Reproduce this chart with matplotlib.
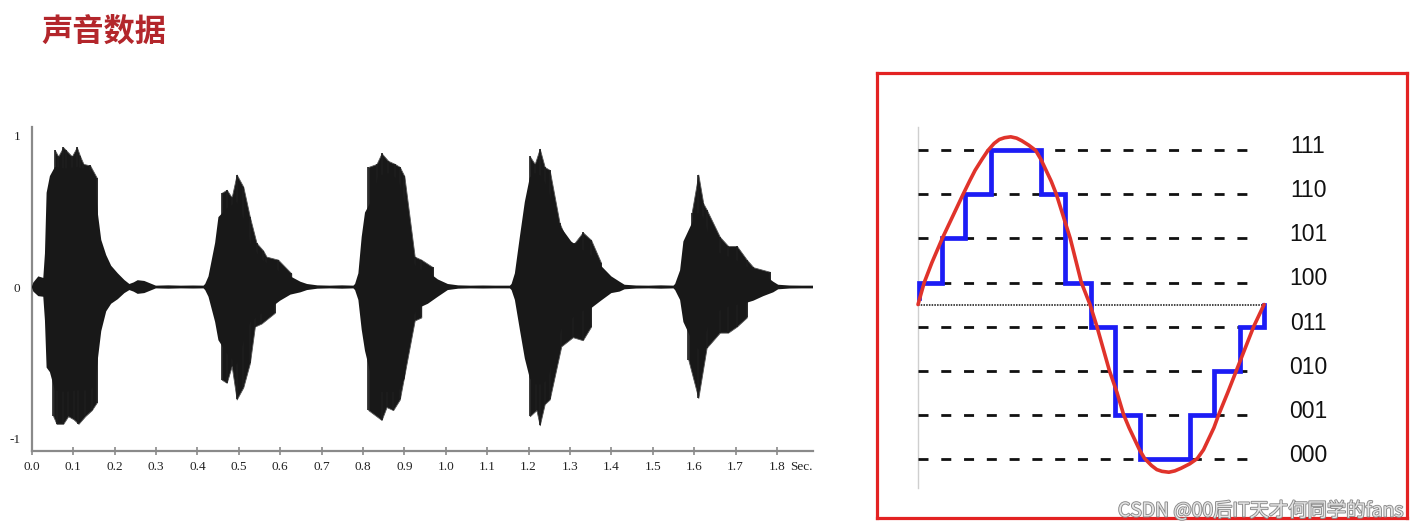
import matplotlib
matplotlib.use('Agg')
import matplotlib.pyplot as plt
import matplotlib.patheffects as pe
import numpy as np

plt.rcParams['font.family'] = ['Noto Sans CJK SC', 'DejaVu Sans']

title_text = '声音数据'
watermark_text = 'CSDN @00后IT天才何同学的fans'

# ------------------------------------------------------------
# left panel: waveform
# body = solid envelope, spikes = thin peaks sticking out of it
# (time in seconds, amplitude)
# ------------------------------------------------------------
body_t = [0.0, 0.004, 0.016, 0.028, 0.032, 0.036, 0.044, 0.056, 0.08, 0.11, 0.14, 0.152,
          0.16, 0.168, 0.18, 0.192, 0.208, 0.224, 0.236, 0.246, 0.256, 0.272, 0.29, 0.30,
          0.33, 0.36, 0.39, 0.415,
          0.419, 0.427, 0.443, 0.451, 0.472, 0.496, 0.516, 0.528, 0.552, 0.576, 0.60, 0.625,
          0.649, 0.665, 0.69, 0.72, 0.75, 0.777,
          0.781, 0.789, 0.797, 0.805, 0.821, 0.837, 0.861, 0.885, 0.901, 0.913, 0.933,
          0.957, 0.981, 1.005, 1.03, 1.06, 1.09, 1.12, 1.155,
          1.159, 1.167, 1.179, 1.191, 1.203, 1.215, 1.231, 1.247, 1.263, 1.279, 1.303, 1.327,
          1.351, 1.375, 1.40, 1.42, 1.432, 1.46, 1.49, 1.52, 1.55,
          1.554, 1.566, 1.574, 1.586, 1.598, 1.61, 1.622, 1.634, 1.646, 1.67, 1.695, 1.719,
          1.743, 1.767, 1.791, 1.803, 1.83, 1.86, 1.887]
body_top = [0.0, 0.03, 0.07, 0.06, 0.22, 0.62, 0.73, 0.79, 0.78, 0.79, 0.77, 0.70,
            0.48, 0.31, 0.21, 0.14, 0.09, 0.046, 0.02, 0.03, 0.045, 0.04, 0.02, 0.009,
            0.011, 0.009, 0.01, 0.009,
            0.02, 0.07, 0.29, 0.46, 0.52, 0.56, 0.42, 0.29, 0.19, 0.14, 0.10, 0.07,
            0.035, 0.02, 0.011, 0.009, 0.011, 0.009,
            0.02, 0.09, 0.33, 0.49, 0.57, 0.73, 0.75, 0.71, 0.56, 0.19, 0.12,
            0.10, 0.05, 0.02, 0.011, 0.009, 0.01, 0.009, 0.009,
            0.02, 0.09, 0.33, 0.56, 0.72, 0.75, 0.73, 0.65, 0.48, 0.39, 0.30, 0.25,
            0.21, 0.14, 0.07, 0.035, 0.015, 0.01, 0.009, 0.011, 0.009,
            0.02, 0.11, 0.30, 0.37, 0.44, 0.49, 0.46, 0.35, 0.25, 0.21, 0.19, 0.14,
            0.12, 0.085, 0.035, 0.015, 0.01, 0.009, 0.009]
body_bot = [0.0, -0.03, -0.06, -0.064, -0.22, -0.53, -0.56, -0.68, -0.69, -0.68, -0.68, -0.65,
            -0.47, -0.29, -0.16, -0.11, -0.08, -0.04, -0.02, -0.03, -0.045, -0.04, -0.02, -0.009,
            -0.011, -0.009, -0.01, -0.009,
            -0.02, -0.064, -0.23, -0.35, -0.44, -0.51, -0.32, -0.23, -0.18, -0.14, -0.09, -0.05,
            -0.035, -0.02, -0.011, -0.009, -0.011, -0.009,
            -0.02, -0.085, -0.28, -0.42, -0.60, -0.69, -0.69, -0.69, -0.60, -0.23, -0.14,
            -0.11, -0.064, -0.02, -0.011, -0.009, -0.01, -0.009, -0.009,
            -0.02, -0.085, -0.28, -0.47, -0.60, -0.64, -0.64, -0.61, -0.41, -0.28, -0.21, -0.16,
            -0.14, -0.09, -0.04, -0.03, -0.015, -0.01, -0.009, -0.011, -0.009,
            -0.02, -0.085, -0.23, -0.30, -0.37, -0.41, -0.37, -0.25, -0.18, -0.14, -0.12, -0.11,
            -0.09, -0.06, -0.035, -0.015, -0.01, -0.009, -0.009]

spike_up_t = [0.056, 0.064, 0.076, 0.083, 0.097, 0.109, 0.117, 0.125, 0.141, 0.157,
              0.459, 0.471, 0.483, 0.495, 0.511, 0.527, 0.543, 0.559, 0.567, 0.595, 0.627,
              0.813, 0.833, 0.845, 0.861, 0.877, 0.889, 0.90, 0.925, 0.941, 0.969,
              1.203, 1.215, 1.227, 1.239, 1.251, 1.275, 1.295, 1.311, 1.331, 1.351, 1.375,
              1.594, 1.61, 1.622, 1.63, 1.662, 1.682, 1.703, 1.727, 1.743, 1.783]
spike_up_v = [0.90, 0.86, 0.92, 0.90, 0.86, 0.92, 0.86, 0.81, 0.80, 0.72,
              0.62, 0.64, 0.59, 0.74, 0.66, 0.46, 0.29, 0.24, 0.20, 0.18, 0.09,
              0.79, 0.81, 0.88, 0.83, 0.81, 0.79, 0.73, 0.20, 0.18, 0.13,
              0.86, 0.81, 0.91, 0.79, 0.77, 0.42, 0.29, 0.29, 0.36, 0.31, 0.16,
              0.49, 0.74, 0.55, 0.51, 0.33, 0.27, 0.27, 0.18, 0.13, 0.10]
spike_dn_t = [0.052, 0.060, 0.076, 0.088, 0.101, 0.113, 0.129, 0.145, 0.157,
              0.459, 0.471, 0.483, 0.495, 0.511, 0.527, 0.539, 0.555, 0.587,
              0.813, 0.845, 0.857, 0.873, 0.889, 0.925, 0.941,
              1.203, 1.219, 1.227, 1.239, 1.251, 1.279, 1.307, 1.331, 1.351,
              1.586, 1.61, 1.63, 1.662, 1.682, 1.703, 1.727]
spike_dn_v = [-0.85, -0.90, -0.90, -0.85, -0.87, -0.90, -0.85, -0.81, -0.76,
              -0.61, -0.63, -0.52, -0.74, -0.66, -0.50, -0.26, -0.24, -0.17,
              -0.81, -0.875, -0.79, -0.81, -0.74, -0.22, -0.20,
              -0.85, -0.81, -0.91, -0.77, -0.74, -0.39, -0.33, -0.35, -0.26,
              -0.48, -0.73, -0.40, -0.30, -0.30, -0.26, -0.20]

time_ticks = [0.0, 0.1, 0.2, 0.3, 0.4, 0.5, 0.6, 0.7, 0.8, 0.9,
              1.0, 1.1, 1.2, 1.3, 1.4, 1.5, 1.6, 1.7, 1.8]
amp_ticks = [-1, 0, 1]

# ------------------------------------------------------------
# right panel: 3-bit quantisation
# ------------------------------------------------------------
level_codes = ['111', '110', '101', '100', '011', '010', '001', '000']
level_values = [3.5, 2.5, 1.5, 0.5, -0.5, -1.5, -2.5, -3.5]

step_edges = [0.003, 0.069, 0.137, 0.212, 0.356, 0.425, 0.499,
              0.570, 0.641, 0.785, 0.856, 0.929, 1.0]
step_levels = [0.5, 1.5, 2.5, 3.5, 2.5, 0.5, -0.5, -2.5, -3.5, -2.5, -1.5, -0.5]
step_start = 0.15
step_end = 0.0

curve_x = [0.0, 0.018, 0.04, 0.07, 0.10, 0.13, 0.15, 0.165, 0.185, 0.202, 0.22, 0.235,
           0.25, 0.268, 0.285, 0.30, 0.32, 0.34, 0.355, 0.37, 0.385, 0.40, 0.42, 0.44,
           0.456, 0.472, 0.497, 0.517, 0.535, 0.553, 0.575, 0.594, 0.61, 0.625, 0.64,
           0.655, 0.675, 0.69, 0.705, 0.725, 0.742, 0.76, 0.785, 0.807, 0.825, 0.84,
           0.855, 0.869, 0.895, 0.92, 0.945, 0.97, 1.0]
curve_y = [0.0, 0.5, 0.95, 1.5, 2.0, 2.5, 2.82, 3.05, 3.3, 3.5, 3.66, 3.75,
           3.79, 3.81, 3.78, 3.72, 3.62, 3.5, 3.3, 3.05, 2.8, 2.5, 2.0, 1.5,
           1.0, 0.5, 0.0, -0.5, -1.0, -1.5, -2.0, -2.5, -2.8, -3.05, -3.3,
           -3.5, -3.66, -3.75, -3.79, -3.81, -3.78, -3.72, -3.62, -3.5, -3.3, -3.05,
           -2.8, -2.5, -2.0, -1.5, -1.0, -0.5, 0.0]

# ------------------------------------------------------------
W, H = 1422, 530
fig = plt.figure(figsize=(W / 100, H / 100), dpi=100)
fig.patch.set_facecolor('white')

fig.text(41 / W, 1 - 32 / H, title_text, color='#b3262b', fontsize=22.5,
         fontweight='bold', ha='left', va='center')

# ---- waveform
ax = fig.add_axes([31.7 / W, (H - 451) / H, (813 - 31.7) / W, (451 - 127) / H])


def spike_groups(ts, vs):
    # split the spike list into one group per burst
    groups, cur = [], [0]
    for i in range(1, len(ts)):
        if ts[i] - ts[i - 1] > 0.1:
            groups.append(cur)
            cur = []
        cur.append(i)
    groups.append(cur)
    return [([ts[i] for i in g], [vs[i] for i in g]) for g in groups]


wave_color = '#181818'

# dense fringe of spikes between body and spike tips
for ts, vs in spike_groups(spike_up_t, spike_up_v) + spike_groups(spike_dn_t, spike_dn_v):
    ax.fill_between(ts, 0, vs, facecolor=wave_color, edgecolor='#555555', linewidth=0.6, zorder=1)

ax.vlines(spike_up_t, 0, spike_up_v, color='#1e1e1e', lw=1.2, zorder=3)
ax.vlines(spike_dn_t, 0, spike_dn_v, color='#1e1e1e', lw=1.2, zorder=3)
ax.fill_between(body_t, body_bot, body_top, facecolor=wave_color, linewidth=0, zorder=4)

ax.set_xlim(0, 1.887)
ax.set_ylim(-1.079, 1.053)
for s in ['top', 'right']:
    ax.spines[s].set_visible(False)
for s in ['left', 'bottom']:
    ax.spines[s].set_color('#8a8a8a')
    ax.spines[s].set_linewidth(1.6)

ax.set_xticks(time_ticks)
ax.set_xticklabels(['%.1f' % v for v in time_ticks])
ax.set_yticks(amp_ticks)
ax.set_yticklabels([str(v) for v in amp_ticks])
ax.tick_params(axis='x', direction='inout', length=6, width=1.2, color='#8a8a8a', pad=4)
ax.tick_params(axis='y', length=0, pad=8)
for lab in ax.get_xticklabels() + ax.get_yticklabels():
    lab.set_family(['Liberation Serif', 'DejaVu Serif'])
    lab.set_fontsize(9.5)
    lab.set_color('#222222')
ax.text(1.86, -0.048, 'Sec.', transform=ax.get_xaxis_transform(), ha='center', va='center',
        family=['Liberation Serif', 'DejaVu Serif'], fontsize=9.5, color='#222222')

# ---- quantisation box
bx = fig.add_axes([877 / W, (H - 518) / H, (1407 - 877) / W, (518 - 73) / H])
bx.set_xlim(-0.1185, 1.413)
bx.set_ylim(-4.85, 5.26)
bx.set_xticks([])
bx.set_yticks([])
for s in bx.spines.values():
    s.set_color('#e32222')
    s.set_linewidth(2.3)

bx.plot([0, 0], [-4.17, 4.03], color='#cfcfcf', lw=1.0)
for lv in level_values:
    bx.plot([0, 0.968], [lv, lv], color='#111111', lw=2.0, linestyle=(0, (3.6, 4.6)))
bx.plot([0, 1.0], [0, 0], color='#444444', lw=1.4, linestyle=(0, (0.8, 0.6)))

sx = [step_edges[0]]
sy = [step_start]
for i, lv in enumerate(step_levels):
    sx += [step_edges[i], step_edges[i + 1]]
    sy += [lv, lv]
sx.append(step_edges[-1])
sy.append(step_end)
bx.plot(sx, sy, color='#1c1cf5', lw=3.4, solid_joinstyle='miter', zorder=3)

bx.plot(curve_x, curve_y, color='#e0332b', lw=2.6, solid_capstyle='round',
        solid_joinstyle='round', zorder=4)

for code, lv in zip(level_codes, level_values):
    bx.text(1.127, lv + 0.08, code, ha='center', va='center', fontsize=16.5,
            family=['Liberation Sans', 'DejaVu Sans'], color='#111111')

fig.text(1118 / W, (H - 511) / H, watermark_text, ha='left', va='center', fontsize=13.9,
         color='#e4e4e4',
         path_effects=[pe.withStroke(linewidth=1.3, foreground='#8a8a8a')])

plt.savefig('out.png', dpi=100, facecolor='white')
plt.close()
